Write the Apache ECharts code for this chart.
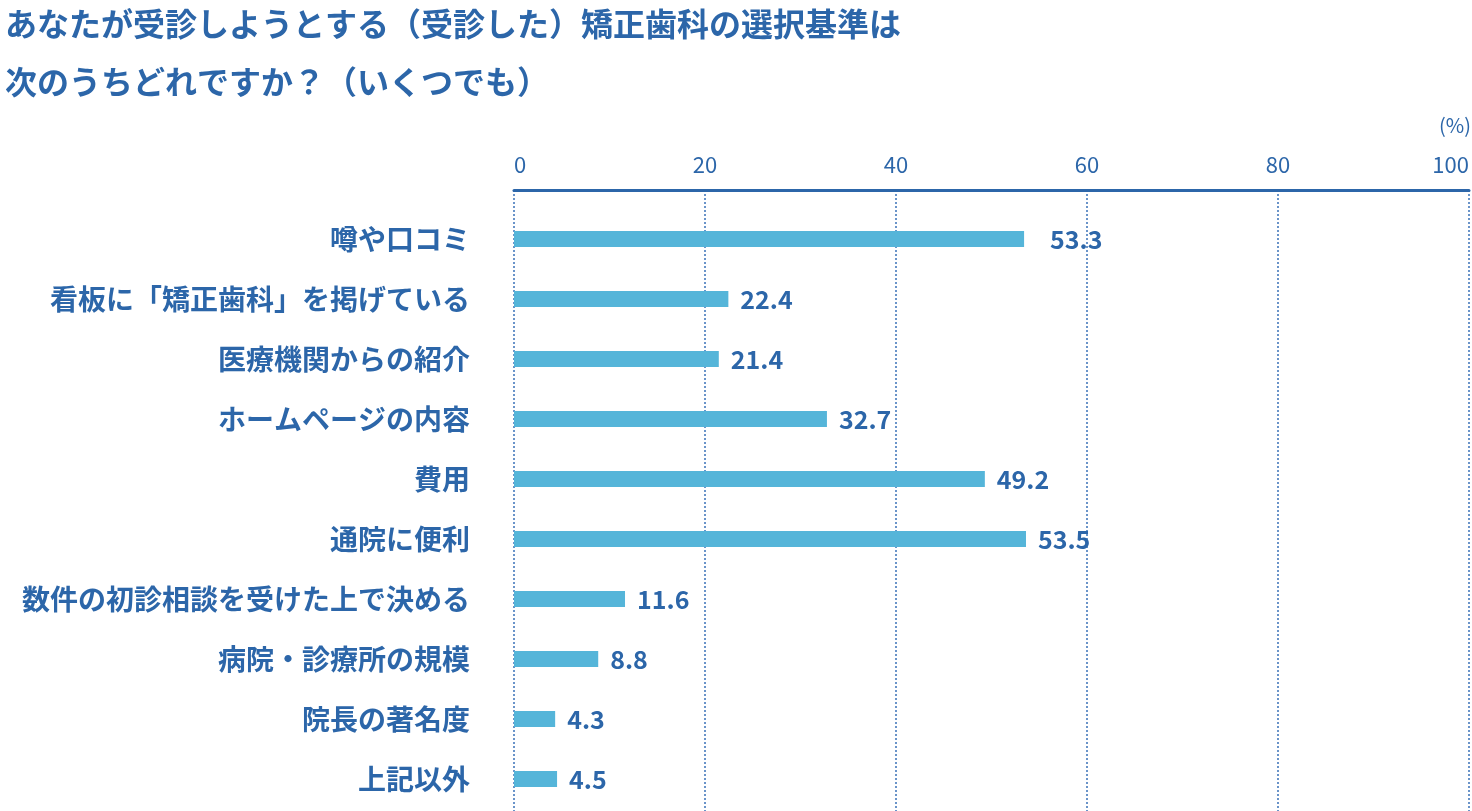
<!DOCTYPE html>
<html>
<head>
<meta charset="utf-8">
<script src="https://cdn.jsdelivr.net/npm/echarts@6/dist/echarts.min.js"></script>
<style>
  html, body { margin: 0; padding: 0; background: #fff; }
  #chart { width: 1472px; height: 811px; }
</style>
</head>
<body>
<div id="chart"></div>
<script>
var categories = ['噂や口コミ', '看板に「矯正歯科」を掲げている', '医療機関からの紹介', 'ホームページの内容', '費用', '通院に便利', '数件の初診相談を受けた上で決める', '病院・診療所の規模', '院長の著名度', '上記以外']
var values = [53.3, 22.4, 21.4, 32.7, 49.2, 53.5, 11.6, 8.8, 4.3, 4.5]
var xTicks = [0, 20, 40, 60, 80, 100]

var FONT = '"Noto Sans CJK JP", "Noto Sans", sans-serif'
var DARK = '#2c66a9'
var BAR = '#55b5d9'

var chart = echarts.init(document.getElementById('chart'))

chart.setOption({
  backgroundColor: '#fff',
  animation: false,
  textStyle: { fontFamily: FONT },
  title: {
    text: 'あなたが受診しようとする（受診した）矯正歯科の選択基準は\n次のうちどれですか？（いくつでも）',
    left: 0,
    top: -10,
    textStyle: {
      color: DARK,
      fontSize: 32,
      fontWeight: 'bold',
      lineHeight: 58,
      fontFamily: FONT
    }
  },
  graphic: [{
    type: 'text',
    right: 1,
    top: 115,
    style: {
      text: '(%)',
      fill: DARK,
      fontSize: 20,
      fontFamily: FONT
    }
  }],
  grid: [
    // axis + grid lines
    { left: 514, right: 1, top: 190, bottom: -4 },
    // bars
    { left: 514, right: 1, top: 209, height: 600 }
  ],
  xAxis: [{
    gridIndex: 0,
    type: 'value',
    position: 'top',
    min: 0,
    max: 100,
    interval: 20,
    axisLine: { show: true, onZero: false, lineStyle: { color: DARK, width: 3 } },
    axisTick: { show: false },
    axisLabel: {
      color: DARK,
      fontSize: 22,
      margin: 14,
      alignMinLabel: 'left',
      alignMaxLabel: 'right',
      formatter: function (v) { return xTicks.indexOf(v) > -1 ? String(v) : '' }
    },
    splitLine: { show: true, lineStyle: { color: '#3a72b8', width: 1.5, type: [2, 2] } }
  }, {
    gridIndex: 1,
    type: 'value',
    min: 0,
    max: 100,
    axisLine: { show: false },
    axisTick: { show: false },
    axisLabel: { show: false },
    splitLine: { show: false }
  }],
  yAxis: [{
    gridIndex: 0,
    type: 'value',
    axisLine: { show: false },
    axisTick: { show: false },
    axisLabel: { show: false },
    splitLine: { show: false }
  }, {
    gridIndex: 1,
    type: 'category',
    inverse: true,
    data: categories,
    axisLine: { show: false },
    axisTick: { show: false },
    splitLine: { show: false },
    axisLabel: {
      color: DARK,
      fontSize: 28,
      fontWeight: 'bold',
      margin: 44
    }
  }],
  series: [{
    type: 'bar',
    xAxisIndex: 1,
    yAxisIndex: 1,
    barWidth: 16,
    itemStyle: { color: BAR },
    label: {
      show: true,
      position: 'right',
      distance: 12,
      color: DARK,
      fontSize: 25,
      fontWeight: 'bold',
      formatter: function (p) { return p.value.toFixed(1) }
    },
    data: values.map(function (v, i) {
      // 53.3 label sits a bit further out in the original
      return i === 0 ? { value: v, label: { distance: 26 } } : v
    })
  }]
})
</script>
</body>
</html>
